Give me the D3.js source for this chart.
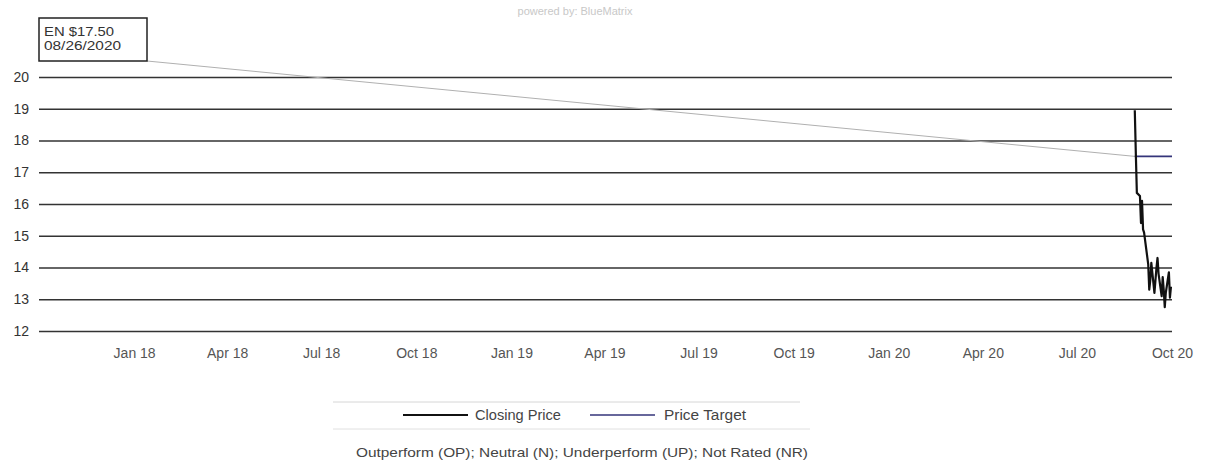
<!DOCTYPE html>
<html>
<head>
<meta charset="utf-8">
<script src="https://cdn.jsdelivr.net/npm/d3@7"></script>
<style>
  html, body { margin: 0; padding: 0; background: #fff; }
  svg { display: block; font-family: "Liberation Sans", Arial, sans-serif; }
</style>
</head>
<body>
<svg id="chart" width="1207" height="468"></svg>
<script>
// ---- data ----
const yTicks = [12, 13, 14, 15, 16, 17, 18, 19, 20];
const xTickDates = ["2018-01-01","2018-04-01","2018-07-01","2018-10-01","2019-01-01","2019-04-01",
                    "2019-07-01","2019-10-01","2020-01-01","2020-04-01","2020-07-01","2020-10-01"];
const xTickLabels = ["Jan 18","Apr 18","Jul 18","Oct 18","Jan 19","Apr 19",
                     "Jul 19","Oct 19","Jan 20","Apr 20","Jul 20","Oct 20"];
const priceDates = ["2020-08-26","2020-08-27","2020-08-28","2020-08-31","2020-09-01","2020-09-02",
                    "2020-09-03","2020-09-04","2020-09-08","2020-09-09","2020-09-10","2020-09-11",
                    "2020-09-14","2020-09-15","2020-09-16","2020-09-17","2020-09-18","2020-09-21",
                    "2020-09-22","2020-09-23","2020-09-24","2020-09-25","2020-09-28","2020-09-29",
                    "2020-09-30"];
const priceValues = [18.95, 17.6, 16.35, 16.25, 15.4, 16.1,
                     15.2, 15.1, 14.1, 13.3, 13.6, 14.15,
                     13.2, 13.6, 14.0, 14.3, 13.8, 13.1,
                     13.7, 13.3, 12.75, 13.2, 13.85, 13.05,
                     13.4];
const targetDates = ["2020-08-26", "2020-10-01"];
const targetValues = [17.5, 17.5];
const annotationLines = ["EN $17.50", "08/26/2020"];
const legendLabels = ["Closing Price", "Price Target"];
const footnote = "Outperform (OP); Neutral (N); Underperform (UP); Not Rated (NR)";
const watermark = "powered by: BlueMatrix";

// ---- setup ----
const parse = d3.timeParse("%Y-%m-%d");
const svg = d3.select("#chart");
const plotL = 39, plotR = 1172, plotT = 77, plotB = 331;

const x = d3.scaleTime()
  .domain([parse("2017-10-01"), parse("2020-10-01")])
  .range([plotL, plotR]);
const y = d3.scaleLinear().domain([12, 20]).range([plotB, plotT]);

// watermark
svg.append("text")
  .attr("x", 575).attr("y", 15)
  .attr("text-anchor", "middle")
  .attr("font-size", 11)
  .attr("fill", "#c8c8c8")
  .text(watermark);

// y gridlines / labels
const yAxis = svg.append("g")
  .attr("transform", `translate(${plotL},0)`)
  .call(d3.axisLeft(y).tickValues(yTicks).tickSize(-(plotR - plotL)).tickPadding(10).tickFormat(d3.format("d")));
yAxis.select(".domain").remove();
yAxis.selectAll(".tick line").attr("stroke", "#333").attr("stroke-width", 1.7);
yAxis.selectAll(".tick text").attr("font-size", 14).attr("fill", "#333")
  .attr("font-family", "'Liberation Sans', Arial, sans-serif");

// x axis labels
const tickMap = new Map(xTickDates.map((d, i) => [+parse(d), xTickLabels[i]]));
const xAxis = svg.append("g")
  .attr("transform", `translate(0,${plotB})`)
  .call(d3.axisBottom(x).tickValues(xTickDates.map(parse)).tickSize(0).tickPadding(17)
    .tickFormat(d => tickMap.get(+d)));
xAxis.select(".domain").remove();
xAxis.selectAll(".tick text").attr("font-size", 14).attr("fill", "#555")
  .attr("font-family", "'Liberation Sans', Arial, sans-serif");

// annotation box + leader line
const boxX = 39, boxY = 18, boxW = 108, boxH = 43;
svg.append("line")
  .attr("x1", boxX + boxW).attr("y1", boxY + boxH)
  .attr("x2", x(parse(targetDates[0]))).attr("y2", y(targetValues[0]))
  .attr("stroke", "#b0b0b0").attr("stroke-width", 1);
svg.append("rect")
  .attr("x", boxX).attr("y", boxY).attr("width", boxW).attr("height", boxH)
  .attr("fill", "#fff").attr("stroke", "#222").attr("stroke-width", 1.5);
svg.selectAll(".ann").data(annotationLines).enter().append("text")
  .attr("x", 44).attr("y", (d, i) => 36 + i * 14)
  .attr("font-size", 13.5).attr("fill", "#333")
  .attr("textLength", (d, i) => i === 0 ? 70 : 77)
  .attr("lengthAdjust", "spacingAndGlyphs")
  .text(d => d);

// price target line
const line = d3.line().x(d => x(d[0])).y(d => y(d[1]));
svg.append("path")
  .datum(targetDates.map((d, i) => [parse(d), targetValues[i]]))
  .attr("d", line)
  .attr("fill", "none").attr("stroke", "#34347a").attr("stroke-width", 1.6);

// closing price line
svg.append("path")
  .datum(priceDates.map((d, i) => [parse(d), priceValues[i]]))
  .attr("d", line)
  .attr("fill", "none").attr("stroke", "#111").attr("stroke-width", 2.2)
  .attr("stroke-linejoin", "round");

// legend
svg.append("line").attr("x1", 333).attr("x2", 800).attr("y1", 402).attr("y2", 402)
  .attr("stroke", "#d6d6d6").attr("stroke-width", 1);
svg.append("line").attr("x1", 333).attr("x2", 810).attr("y1", 429).attr("y2", 429)
  .attr("stroke", "#e0e0e0").attr("stroke-width", 1);
const legendItems = [
  { x1: 403, x2: 468, tx: 475, color: "#111", w: 2.2, tl: 86 },
  { x1: 590, x2: 655, tx: 664, color: "#34347a", w: 1.6, tl: 82 }
];
legendItems.forEach((it, i) => {
  svg.append("line").attr("x1", it.x1).attr("x2", it.x2).attr("y1", 415).attr("y2", 415)
    .attr("stroke", it.color).attr("stroke-width", it.w);
  svg.append("text").attr("x", it.tx).attr("y", 420)
    .attr("font-size", 14).attr("fill", "#444")
    .attr("textLength", it.tl).attr("lengthAdjust", "spacingAndGlyphs")
    .text(legendLabels[i]);
});
svg.append("text").attr("x", 582).attr("y", 457)
  .attr("text-anchor", "middle")
  .attr("font-size", 13.5).attr("fill", "#444")
  .attr("textLength", 452).attr("lengthAdjust", "spacingAndGlyphs")
  .text(footnote);
</script>
</body>
</html>
